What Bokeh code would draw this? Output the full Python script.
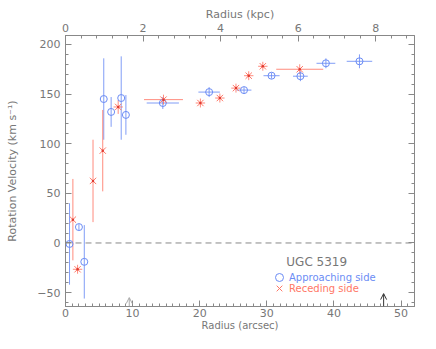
from bokeh.plotting import figure
from bokeh.models import (Range1d, LinearAxis, Span, Arrow, OpenHead, Label, Legend,
                          LegendItem, CustomJSTickFormatter, SingleIntervalTicker)
from bokeh.embed import file_html
from bokeh.resources import INLINE

# ---------------- data ----------------
# Approaching side (blue circles)
app_r    = [0.6, 2.0, 2.8, 5.7, 6.8, 8.3, 9.0, 14.5, 21.4, 26.6, 30.7, 35.0, 38.8, 43.8]
app_v    = [-1, 16, -19, 145, 132, 146, 129, 141, 152, 154, 168.5, 168, 181, 183]
app_verr = [41, 3, 37, 41, 15, 42, 20, 6, 5, 3, 3, 5, 5, 7]
app_rerr = [0, 0, 0, 0, 0, 0, 0, 2.4, 1.6, 1.1, 1.2, 1.1, 1.4, 1.9]

# Receding side (red crosses)
rec_r    = [1.1, 1.8, 4.1, 5.55, 7.85, 14.6, 20.1, 23.0, 25.4, 27.3, 29.4, 34.9]
rec_v    = [23.5, -26.5, 62.5, 93, 137, 144.4, 141, 146, 156, 168.5, 178, 175]
rec_verr = [41, 4.5, 41.5, 41, 7, 5, 4.5, 4.5, 4.5, 4.5, 4.5, 5]
rec_rerr = [0, 0.7, 0, 0, 0.7, 2.9, 0.7, 0.7, 0.7, 0.7, 0.7, 3.5]

KPC_PER_ARCSEC = 0.1731
arrow_r = [9.5, 47.4]        # arcsec
arrow_tip = [-55, -51]       # km/s

galaxy = "UGC 5319"

BLUE = "#6b8cf5"
RED = "#ff7766"
GRAY = "#777777"
FONT = "DejaVu Sans"

XMAX = 52
p = figure(width=420, height=333, x_range=Range1d(0, XMAX), y_range=Range1d(-64, 209),
           output_backend="svg", toolbar_location=None,
           min_border_left=65, min_border_right=6, min_border_top=35, min_border_bottom=26)
p.extra_x_ranges = {"kpc": Range1d(0, XMAX * KPC_PER_ARCSEC)}
p.grid.visible = False
p.outline_line_color = "#888888"
p.background_fill_color = "white"

# zero line
p.add_layout(Span(location=0, dimension="width", line_color="#888888",
                  line_dash="6 4", line_width=1))

# blue error bars
p.segment(app_r, [v - e for v, e in zip(app_v, app_verr)],
          app_r, [v + e for v, e in zip(app_v, app_verr)],
          line_color=BLUE, line_width=1, line_alpha=0.85)
p.segment([r - e for r, e in zip(app_r, app_rerr)], app_v,
          [r + e for r, e in zip(app_r, app_rerr)], app_v,
          line_color=BLUE, line_width=1, line_alpha=0.85)
# red error bars
p.segment(rec_r, [v - e for v, e in zip(rec_v, rec_verr)],
          rec_r, [v + e for v, e in zip(rec_v, rec_verr)],
          line_color=RED, line_width=1, line_alpha=0.85)
p.segment([r - e for r, e in zip(rec_r, rec_rerr)], rec_v,
          [r + e for r, e in zip(rec_r, rec_rerr)], rec_v,
          line_color=RED, line_width=1, line_alpha=0.85)

blue_r = p.scatter(app_r, app_v, marker="circle", size=7, fill_color=None,
                   line_color=BLUE, line_width=1)
red_r = p.scatter(rec_r, rec_v, marker="x", size=9, line_color=RED, line_width=1)
p.scatter(rec_r, rec_v, marker="circle", size=2.5, fill_color="#e03a30",
          line_color=None)

# arrows
p.add_layout(Arrow(end=OpenHead(size=6, line_color="#aaaaaa", line_width=1),
                   x_start=arrow_r[0], y_start=-64, x_end=arrow_r[0], y_end=arrow_tip[0],
                   line_color="#aaaaaa", line_width=1))
p.add_layout(Arrow(end=OpenHead(size=6, line_color="#333333", line_width=1),
                   x_start=arrow_r[1], y_start=-64, x_end=arrow_r[1], y_end=arrow_tip[1],
                   line_color="#333333", line_width=1))

def style_axis(ax):
    ax.axis_line_color = "#888888"
    ax.major_tick_line_color = "#888888"
    ax.minor_tick_line_color = "#888888"
    ax.major_tick_in = 6
    ax.major_tick_out = 0
    ax.minor_tick_in = 3
    ax.minor_tick_out = 0
    ax.major_label_text_color = GRAY
    ax.major_label_text_font = FONT
    ax.major_label_text_font_size = "11px"
    ax.axis_label_text_color = GRAY
    ax.axis_label_text_font = FONT
    ax.axis_label_text_font_size = "11px"
    ax.axis_label_text_font_style = "normal"

# bottom
xa = p.xaxis[0]
xa.ticker = SingleIntervalTicker(interval=10, num_minor_ticks=10)
style_axis(xa)
xa.axis_label = "Radius (arcsec)"
xa.axis_label_text_font_size = "10px"
xa.major_label_standoff = 2
xa.axis_label_standoff = 0

# left
ya = p.yaxis[0]
ya.ticker = SingleIntervalTicker(interval=50, num_minor_ticks=5)
style_axis(ya)
ya.axis_label = "Rotation Velocity (km s\u207b\u00b9)"
ya.major_label_standoff = 5
ya.axis_label_standoff = 15

# top (kpc)
top = LinearAxis(x_range_name="kpc", ticker=SingleIntervalTicker(interval=2, num_minor_ticks=5))
style_axis(top)
top.axis_label = "Radius (kpc)"
top.major_label_standoff = 4
top.axis_label_standoff = 0
p.add_layout(top, "above")

# right (no labels)
right = LinearAxis(ticker=SingleIntervalTicker(interval=50, num_minor_ticks=5),
                   formatter=CustomJSTickFormatter(code="return ''"))
style_axis(right)
right.major_label_standoff = 0
p.add_layout(right, "right")

# legend block
p.add_layout(Label(x=32.9, y=-19.6, text=galaxy, text_align="left", text_baseline="middle",
                   text_font=FONT, text_font_size="12px", text_color=GRAY))

def mk_legend(item, color, loc):
    lg = Legend(items=[item], location=loc, border_line_color=None,
                background_fill_alpha=0, padding=0, margin=0, spacing=0,
                glyph_width=20, glyph_height=20, label_standoff=0,
                label_text_font=FONT, label_text_font_size="10px",
                label_text_color=color, label_height=10)
    p.add_layout(lg, "center")

mk_legend(LegendItem(label="Approaching side", renderers=[blue_r]), BLUE, (204, 19))
mk_legend(LegendItem(label="Receding side", renderers=[red_r]), RED, (204, 8))

open("out.html", "w").write(file_html(p, INLINE))
